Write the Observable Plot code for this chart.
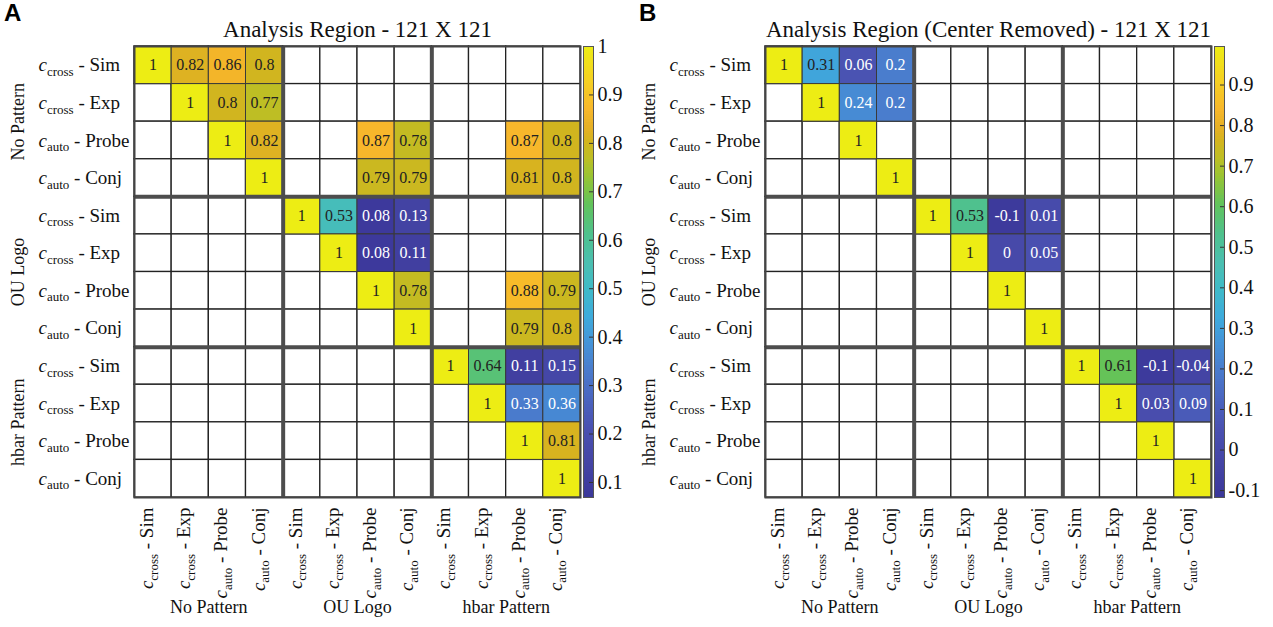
<!DOCTYPE html>
<html><head><meta charset="utf-8">
<script src="https://cdn.jsdelivr.net/npm/d3@7"></script>
<script src="https://cdn.jsdelivr.net/npm/@observablehq/plot@0.6"></script>
<style>
body{margin:0;background:#fff;}
#root{position:relative;width:1273px;height:627px;overflow:hidden;background:#fff;}
.abs{position:absolute;top:0;}
.abs svg text{font-family:"Liberation Serif","Times New Roman",serif !important;}
.letter{position:absolute;font-family:"Liberation Sans",Arial,sans-serif;font-weight:bold;font-size:24px;color:#000;line-height:1;}
</style></head><body><div id="root"></div>
<script>
// ---------- data ----------
const groups = ["No Pattern", "OU Logo", "hbar Pattern"];
const kinds = ["cross", "cross", "auto", "auto"];
const names = ["Sim", "Exp", "Probe", "Conj"];
const titleA = "Analysis Region - 121 X 121";
const titleB = "Analysis Region (Center Removed) - 121 X 121";
const _ = null;
const valuesA = [
  [1, 0.82, 0.86, 0.8, _, _, _, _, _, _, _, _],
  [_, 1, 0.8, 0.77, _, _, _, _, _, _, _, _],
  [_, _, 1, 0.82, _, _, 0.87, 0.78, _, _, 0.87, 0.8],
  [_, _, _, 1, _, _, 0.79, 0.79, _, _, 0.81, 0.8],
  [_, _, _, _, 1, 0.53, 0.08, 0.13, _, _, _, _],
  [_, _, _, _, _, 1, 0.08, 0.11, _, _, _, _],
  [_, _, _, _, _, _, 1, 0.78, _, _, 0.88, 0.79],
  [_, _, _, _, _, _, _, 1, _, _, 0.79, 0.8],
  [_, _, _, _, _, _, _, _, 1, 0.64, 0.11, 0.15],
  [_, _, _, _, _, _, _, _, _, 1, 0.33, 0.36],
  [_, _, _, _, _, _, _, _, _, _, 1, 0.81],
  [_, _, _, _, _, _, _, _, _, _, _, 1]
];
const valuesB = [
  [1, 0.31, 0.06, 0.2, _, _, _, _, _, _, _, _],
  [_, 1, 0.24, 0.2, _, _, _, _, _, _, _, _],
  [_, _, 1, _, _, _, _, _, _, _, _, _],
  [_, _, _, 1, _, _, _, _, _, _, _, _],
  [_, _, _, _, 1, 0.53, -0.1, 0.01, _, _, _, _],
  [_, _, _, _, _, 1, 0, 0.05, _, _, _, _],
  [_, _, _, _, _, _, 1, _, _, _, _, _],
  [_, _, _, _, _, _, _, 1, _, _, _, _],
  [_, _, _, _, _, _, _, _, 1, 0.61, -0.1, -0.04],
  [_, _, _, _, _, _, _, _, _, 1, 0.03, 0.09],
  [_, _, _, _, _, _, _, _, _, _, 1, _],
  [_, _, _, _, _, _, _, _, _, _, _, 1]
];
const domainA = [0.069, 1];
const domainB = [-0.117, 0.995];
const ticksA = [0.1, 0.2, 0.3, 0.4, 0.5, 0.6, 0.7, 0.8, 0.9, 1];
const ticksB = [-0.1, 0, 0.1, 0.2, 0.3, 0.4, 0.5, 0.6, 0.7, 0.8, 0.9];
// parula-like colormap stops
const cmapT = [0, 0.07, 0.15, 0.22, 0.28, 0.34, 0.40, 0.46, 0.52, 0.58, 0.65, 0.71, 0.75, 0.79, 0.82, 0.86, 0.92, 1];
const cmapC = ["#3b379a", "#4444a4", "#4a50b0", "#4a65c0", "#4a7bcc", "#4593d8", "#3eabdc", "#3fbac8", "#4bbfb0",
  "#4ec18f", "#62c35b", "#98c433", "#bcbf24", "#d4b41e", "#e6b025", "#f7b72b", "#f6cf22", "#eded14"];

// ---------- helpers ----------
const cmapScale = d3.scaleLinear().domain(cmapT).range(cmapC).interpolate(d3.interpolateRgb).clamp(true);
const parula = t => cmapScale(t);
const FONT = "'Liberation Serif', 'Times New Roman', serif";

function subscriptify(svg) {
  d3.select(svg).selectAll("text").each(function () {
    const m = /^c_(\w+) - (.+)$/.exec(this.textContent);
    if (!m) return;
    const fs = parseFloat(d3.select(this).attr("font-size")) || 19;
    const sel = d3.select(this);
    sel.text(null);
    sel.append("tspan").attr("font-style", "italic").text("c");
    sel.append("tspan").attr("font-size", Math.round(fs * 0.68)).attr("dy", fs * 0.24).text(m[1]);
    sel.append("tspan").attr("dy", -fs * 0.24).text(" - " + m[2]);
  });
}

function heatmap(values, domain, title) {
  const cells = [];
  values.forEach((row, i) => row.forEach((v, j) => cells.push({i, j, v})));
  const filled = cells.filter(d => d.v !== null);
  const labels = d3.range(12).map(k => `c_${kinds[k % 4]} - ${names[k % 4]}`);
  const tOf = v => (v - domain[0]) / (domain[1] - domain[0]);
  const pos = {x1: d => d.j, x2: d => d.j + 1, y1: d => d.i, y2: d => d.i + 1};
  const ctr = {x: d => d.j + 0.5, y: d => d.i + 0.5};
  const svg = Plot.plot({
    width: 636, height: 627,
    marginLeft: 134, marginRight: 56, marginTop: 46, marginBottom: 130,
    x: {domain: [0, 12], axis: null},
    y: {domain: [0, 12], reverse: true, axis: null},
    color: {type: "linear", domain, interpolate: parula, clamp: true},
    style: {fontFamily: FONT, fontSize: "16px", background: "transparent", color: "#111", overflow: "visible", maxWidth: "none"},
    marks: [
      Plot.rect(cells, {...pos, fill: "white", stroke: "#222", strokeWidth: 1.3}),
      Plot.rect(filled, {...pos, fill: d => d.v, stroke: "#3a3a3a", strokeWidth: 1}),
      Plot.text(filled.filter(d => tOf(d.v) >= 0.35), {...ctr, text: d => String(d.v), fill: "#222", fontSize: 16, fontFamily: FONT}),
      Plot.text(filled.filter(d => tOf(d.v) < 0.35), {...ctr, text: d => String(d.v), fill: "white", fontSize: 16, fontFamily: FONT}),
      Plot.ruleX([4, 8], {stroke: "#4d4d4d", strokeWidth: 4}),
      Plot.ruleY([4, 8], {stroke: "#4d4d4d", strokeWidth: 4}),
      Plot.frame({stroke: "#444", strokeWidth: 2}),
      Plot.text(labels, {frameAnchor: "left", y: (d, k) => k + 0.5, text: d => d, textAnchor: "start", dx: -96, fontSize: 19, fill: "#111", fontFamily: FONT}),
      Plot.text(labels, {frameAnchor: "bottom", x: (d, k) => k + 0.5, text: d => d, rotate: -90, textAnchor: "end", dy: 10, fontSize: 19, fill: "#111", fontFamily: FONT}),
      Plot.text(groups, {frameAnchor: "left", y: (d, k) => 4 * k + 2, text: d => d, rotate: -90, textAnchor: "middle", dx: -116, fontSize: 18, fill: "#111", fontFamily: FONT}),
      Plot.text(groups, {frameAnchor: "bottom", x: (d, k) => 4 * k + 2, text: d => d, textAnchor: "middle", dy: 115, fontSize: 18, fill: "#111", fontFamily: FONT}),
      Plot.text([title], {frameAnchor: "top", text: d => d, textAnchor: "middle", dy: -10, lineAnchor: "bottom", fontSize: 23, fill: "#111", fontFamily: FONT})
    ]
  });
  subscriptify(svg);
  return svg;
}

function colorbar(domain, ticks) {
  const N = 160;
  const span = domain[1] - domain[0];
  const slices = d3.range(N).map(k => ({a: domain[0] + span * k / N, b: domain[0] + span * (k + 1) / N}));
  return Plot.plot({
    width: 70, height: 627,
    marginLeft: 0, marginRight: 60, marginTop: 46, marginBottom: 130,
    x: {domain: [0, 1], axis: null},
    y: {domain, axis: null},
    color: {type: "linear", domain, interpolate: parula, clamp: true},
    style: {fontFamily: FONT, fontSize: "20px", background: "transparent", color: "#111", overflow: "visible", maxWidth: "none"},
    marks: [
      Plot.rect(slices, {x1: 0, x2: 1, y1: "a", y2: "b", fill: d => (d.a + d.b) / 2, shapeRendering: "crispEdges"}),
      Plot.ruleY(ticks, {x1: 0.6, x2: 1, stroke: "#333", strokeWidth: 1}),
      Plot.frame({stroke: "#555", strokeWidth: 1}),
      Plot.axisY(ticks, {anchor: "right", tickSize: 0, tickPadding: 4, tickFormat: d => String(d), fontSize: 20, fill: "#111", fontFamily: FONT})
    ]
  });
}

// ---------- layout ----------
const root = document.getElementById("root");
function place(node, left) {
  d3.select(node).selectAll("[font-family]").attr("font-family", FONT);
  const div = document.createElement("div");
  div.className = "abs";
  div.style.left = left + "px";
  div.appendChild(node);
  root.appendChild(div);
}
place(heatmap(valuesA, domainA, titleA), 0);
place(colorbar(domainA, ticksA), 583);
place(heatmap(valuesB, domainB, titleB), 631);
place(colorbar(domainB, ticksB), 1214);
for (const [txt, left] of [["A", 4], ["B", 639]]) {
  const d = document.createElement("div");
  d.className = "letter";
  d.style.left = left + "px";
  d.style.top = "1px";
  d.textContent = txt;
  root.appendChild(d);
}
</script></body></html>
